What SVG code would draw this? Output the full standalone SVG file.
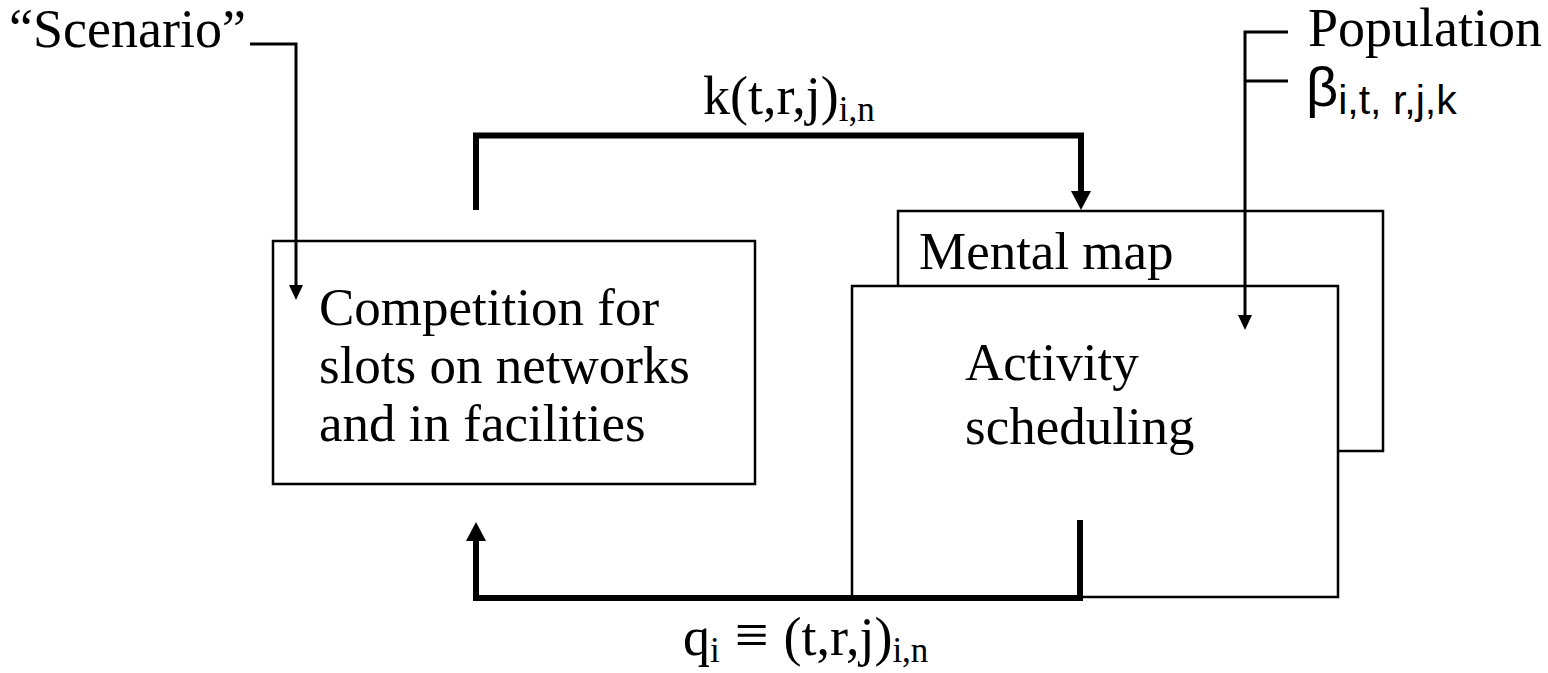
<svg xmlns="http://www.w3.org/2000/svg" width="1548" height="673" viewBox="0 0 1548 673">
  <style>
    .box { fill: #ffffff; stroke: #000000; stroke-width: 2.5; }
    .t { font-family: "Liberation Serif", "Times New Roman", serif; font-size: 54px; fill: #000000; }
    .b { font-size: 53px; }
    .sub { font-size: 35px; }
    .s { font-family: "Liberation Sans", Arial, sans-serif; fill: #000000; }
    .thick { fill: none; stroke: #000000; stroke-width: 6; stroke-linejoin: miter; }
    .thin { fill: none; stroke: #000000; stroke-width: 3; stroke-linejoin: miter; }
  </style>
  <defs>
    <marker id="arrowThick" markerUnits="userSpaceOnUse" viewBox="0 0 19 20" markerWidth="19" markerHeight="20" refX="0" refY="10" orient="auto">
      <path d="M0,0 L19,10 L0,20 z" fill="#000000"/>
    </marker>
    <marker id="arrowThin" markerUnits="userSpaceOnUse" viewBox="0 0 15 14" markerWidth="15" markerHeight="14" refX="0" refY="7" orient="auto">
      <path d="M0,0 L15,7 L0,14 z" fill="#000000"/>
    </marker>
  </defs>

  <rect width="1548" height="673" fill="#ffffff"/>

  <g id="scenario">
    <text class="t" x="9" y="47">“Scenario”</text>
  </g>

  <g id="population">
    <text class="t" x="1308" y="46">Population</text>
    <text class="s" x="1306" y="106" font-size="56">β<tspan font-size="41" dy="8">i,t, r,j,k</tspan></text>
  </g>

  <g id="competition">
    <rect class="box" x="273" y="241" width="482" height="243"/>
    <text class="t b" x="319" y="325">Competition for</text>
    <text class="t b" x="319" y="383">slots on networks</text>
    <text class="t b" x="319" y="441">and in facilities</text>
  </g>

  <g id="mental-map">
    <rect class="box" x="898" y="211" width="485" height="240"/>
    <text class="t b" x="919" y="269">Mental map</text>
  </g>

  <g id="activity-scheduling">
    <rect class="box" x="852" y="286" width="486" height="311"/>
    <text class="t b" x="965" y="380">Activity</text>
    <text class="t b" x="965" y="444">scheduling</text>
  </g>

  <g id="labels">
    <text class="t" x="703" y="114">k(t,r,j)<tspan class="sub" dy="7">i,n</tspan></text>
    <text class="t" x="683" y="655">q<tspan class="sub" dy="7">i</tspan><tspan dy="-7" font-size="60"> ≡ </tspan><tspan>(t,r,j)</tspan><tspan class="sub" dy="7">i,n</tspan></text>
  </g>

  <g id="connectors">
    <path class="thick" d="M476,210 V135.5 H1081 V191" marker-end="url(#arrowThick)"/>
    <path class="thick" d="M1080,520 V598 H476 V541" marker-end="url(#arrowThick)"/>
    <path class="thin" d="M250,44 H296 V285" marker-end="url(#arrowThin)"/>
    <path class="thin" d="M1288,32 H1245 V315" marker-end="url(#arrowThin)"/>
    <path class="thin" d="M1245,81 H1288"/>
  </g>
</svg>
